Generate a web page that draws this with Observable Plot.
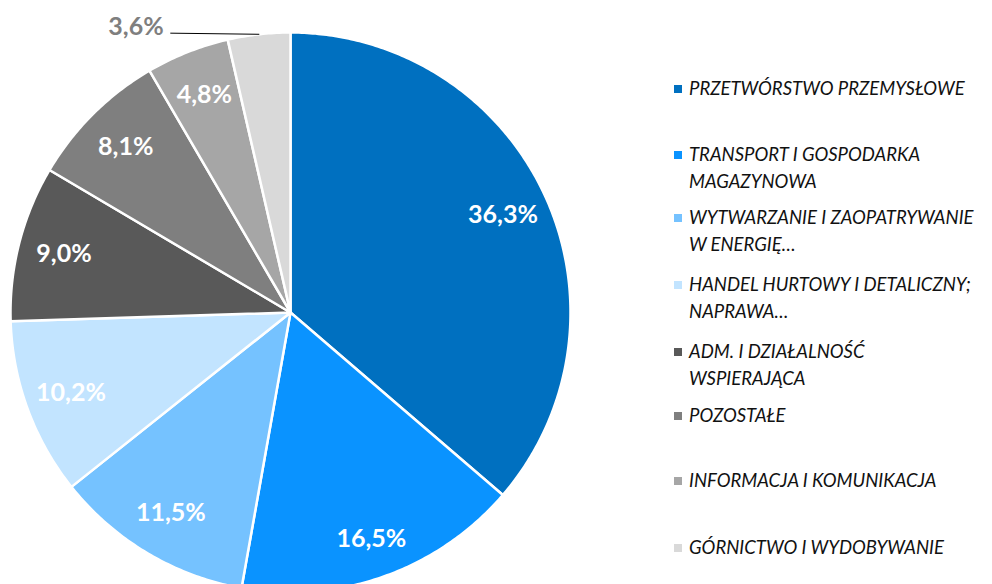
<!DOCTYPE html>
<html>
<head>
<meta charset="utf-8">
<script src="https://cdn.jsdelivr.net/npm/d3@7"></script>
<script src="https://cdn.jsdelivr.net/npm/@observablehq/plot@0.6"></script>
<style>
  html, body { margin: 0; padding: 0; background: #fff; overflow: hidden; }
  #wrap { position: relative; width: 992px; height: 584px; }
  #legend { position: absolute; left: 0; top: 0; width: 992px; height: 584px; font-family: Lato, sans-serif; font-style: italic; font-size: 18.5px; color: #111; }
  .item { position: absolute; left: 674px; width: 318px; white-space: pre; line-height: 27px; padding-left: 15px; box-sizing: border-box; }
  .sw { position: absolute; left: 0; top: 10px; width: 8px; height: 8px; }
</style>
</head>
<body>
<div id="wrap"><div id="chart"></div><div id="legend"></div></div>
<script>
const categories = [
  "PRZETWÓRSTWO PRZEMYSŁOWE",
  "TRANSPORT I GOSPODARKA\nMAGAZYNOWA",
  "WYTWARZANIE I ZAOPATRYWANIE\nW ENERGIĘ…",
  "HANDEL HURTOWY I DETALICZNY;\nNAPRAWA…",
  "ADM. I DZIAŁALNOŚĆ\nWSPIERAJĄCA",
  "POZOSTAŁE",
  "INFORMACJA I KOMUNIKACJA",
  "GÓRNICTWO I WYDOBYWANIE"
];
const shares = [36.3, 16.5, 11.5, 10.2, 9.0, 8.1, 4.8, 3.6];
const valueLabels = ["36,3%", "16,5%", "11,5%", "10,2%", "9,0%", "8,1%", "4,8%", "3,6%"];
const colors = ["#0070C0", "#0A93FF", "#75C2FF", "#C2E4FF", "#595959", "#7F7F7F", "#A6A6A6", "#D9D9D9"];
const outsideLabel = [false, false, false, false, false, false, false, true];
const legendTops = [75, 141, 204, 271, 338, 402, 467, 534];

const arcs = d3.pie().sort(null).value(d => d)(shares);
const polys = [];
arcs.forEach((a, i) => {
  const cat = categories[i];
  polys.push({cat, x: 0, y: 0});
  const n = Math.max(4, Math.ceil((a.endAngle - a.startAngle) / 0.01));
  for (let k = 0; k <= n; k++) {
    const t = a.startAngle + (a.endAngle - a.startAngle) * k / n;
    polys.push({cat, x: Math.sin(t), y: Math.cos(t)});
  }
  polys.push({cat, x: 0, y: 0});
});

const inside = [], outside = [], leader = [];
arcs.forEach((a, i) => {
  const m = (a.startAngle + a.endAngle) / 2;
  if (!outsideLabel[i]) {
    const f = i === 1 ? 0.86 : 0.835;
    inside.push({x: f * Math.sin(m), y: f * Math.cos(m), t: valueLabels[i]});
  } else {
    const ex = Math.sin(m), ey = Math.cos(m);
    leader.push({x: ex, y: ey, g: 0}, {x: ex - 0.315, y: ey + 0.004, g: 0});
    outside.push({x: ex - 0.34, y: ey + 0.027, t: valueLabels[i]});
  }
});

const R = 280;
const plot = Plot.plot({
  width: 992,
  height: 584,
  marginLeft: 10,
  marginRight: 422,
  marginTop: 32,
  marginBottom: 0,
  x: {axis: null, domain: [-1, 1]},
  y: {axis: null, domain: [-(584 - 312) / R, 1]},
  color: {type: "ordinal", domain: categories, range: colors},
  style: {fontFamily: "Lato, sans-serif", background: "white"},
  marks: [
    Plot.line(polys, {x: "x", y: "y", z: "cat", fill: "cat", stroke: "white", strokeWidth: 2.5, strokeLinejoin: "round", curve: "linear"}),
    Plot.text(inside, {x: "x", y: "y", text: "t", fill: "white", fontWeight: "bold", fontSize: 25}),
    Plot.line(leader, {x: "x", y: "y", z: "g", stroke: "#000", strokeWidth: 1}),
    Plot.text(outside, {x: "x", y: "y", text: "t", fill: "#7F7F7F", fontWeight: "bold", fontSize: 25, textAnchor: "end"})
  ]
});
document.getElementById("chart").appendChild(plot);

const legend = document.getElementById("legend");
categories.forEach((c, i) => {
  const d = document.createElement("div");
  d.className = "item";
  d.style.top = legendTops[i] + "px";
  const sw = document.createElement("span");
  sw.className = "sw";
  sw.style.background = colors[i];
  d.appendChild(sw);
  d.appendChild(document.createTextNode(c));
  legend.appendChild(d);
});
</script>
</body>
</html>
